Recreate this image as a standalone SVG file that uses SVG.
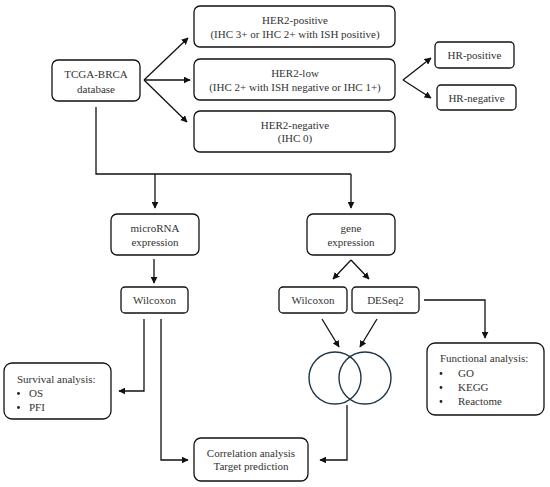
<svg xmlns="http://www.w3.org/2000/svg" width="550" height="487" viewBox="0 0 550 487">
<defs>
<marker id="ah" viewBox="0 0 10 10" refX="9" refY="5" markerWidth="7" markerHeight="7" markerUnits="userSpaceOnUse" orient="auto">
<path d="M0,0 L10,5 L0,10 z" fill="#111"/>
</marker>
<style>
.box{fill:#fff;stroke:#111;stroke-width:1.3}
.t{font-family:"Liberation Serif","Times New Roman",serif;font-size:11px;fill:#333;text-anchor:middle}
.l{font-family:"Liberation Serif","Times New Roman",serif;font-size:11px;fill:#333}
.c{fill:none;stroke:#111;stroke-width:1.3}
.a{fill:none;stroke:#111;stroke-width:1.3;marker-end:url(#ah)}
.v{fill:none;stroke:#1d3547;stroke-width:1.4}
</style>
</defs>
<rect width="550" height="487" fill="#fff"/>
<g id="connectors">
<path class="a" d="M144,80 L188,38"/>
<path class="a" d="M144,80 L190,80"/>
<path class="a" d="M144,80 L187,122"/>
<path class="a" d="M403,80 L431,58"/>
<path class="a" d="M403,80 L431,98"/>
<path class="c" d="M96,107 L96,174 L351,174"/>
<path class="a" d="M155,174 L155,208"/>
<path class="a" d="M351,174 L351,208"/>
<path class="a" d="M154,259 L154,283"/>
<path class="a" d="M351,260 L333,279"/>
<path class="a" d="M351,260 L369,279"/>
<path class="a" d="M424,300 L485,300 L485,338"/>
<path class="a" d="M322,319 L339,347"/>
<path class="a" d="M377,319 L360,347"/>
<path class="a" d="M347,405 L347,460 L320,460"/>
<path class="a" d="M144,319 L144,391 L119,391"/>
<path class="a" d="M161,319 L161,460 L188,460"/>
</g>
<g id="tcga"><rect class="box" x="52" y="60" width="88" height="41" rx="6"/><text class="t" x="96" y="78">TCGA-BRCA</text><text class="t" x="96" y="93">database</text></g>
<g id="her2pos"><rect class="box" x="194" y="6" width="201" height="41" rx="6"/><text class="t" x="295" y="24">HER2-positive</text><text class="t" x="295" y="38">(IHC 3+ or IHC 2+ with ISH positive)</text></g>
<g id="her2low"><rect class="box" x="194" y="59" width="201" height="41" rx="6"/><text class="t" x="295" y="77">HER2-low</text><text class="t" x="295" y="91">(IHC 2+ with ISH negative or IHC 1+)</text></g>
<g id="her2neg"><rect class="box" x="194" y="111" width="201" height="41" rx="6"/><text class="t" x="295" y="129">HER2-negative</text><text class="t" x="295" y="142">(IHC 0)</text></g>
<g id="hrpos"><rect class="box" x="435" y="42" width="79" height="26" rx="4"/><text class="t" x="474.5" y="59">HR-positive</text></g>
<g id="hrneg"><rect class="box" x="437" y="85" width="79" height="25" rx="4"/><text class="t" x="476.5" y="102">HR-negative</text></g>
<g id="mirna"><rect class="box" x="111" y="214" width="88" height="41" rx="6"/><text class="t" x="155" y="232">microRNA</text><text class="t" x="155" y="246">expression</text></g>
<g id="gene"><rect class="box" x="307" y="214" width="88" height="41" rx="6"/><text class="t" x="351" y="232">gene</text><text class="t" x="351" y="246">expression</text></g>
<g id="wilcoxon1"><rect class="box" x="121" y="287" width="67" height="26" rx="4"/><text class="t" x="154.5" y="304">Wilcoxon</text></g>
<g id="wilcoxon2"><rect class="box" x="279" y="287" width="68" height="26" rx="4"/><text class="t" x="313" y="304">Wilcoxon</text></g>
<g id="deseq2"><rect class="box" x="352" y="287" width="67" height="26" rx="4"/><text class="t" x="385.5" y="304">DESeq2</text></g>
<g id="venn"><circle class="v" cx="335" cy="378" r="26"/><circle class="v" cx="365" cy="378" r="26"/></g>
<g id="survival"><rect class="box" x="4" y="363" width="107" height="56" rx="8"/><text class="l" x="17" y="383">Survival analysis:</text><circle cx="18.5" cy="393.5" r="1.4" fill="#222"/><text class="l" x="29" y="397">OS</text><circle cx="18.5" cy="407.5" r="1.4" fill="#222"/><text class="l" x="29" y="411">PFI</text></g>
<g id="functional"><rect class="box" x="427" y="343" width="117" height="72" rx="8"/><text class="l" x="440" y="362">Functional analysis:</text><circle cx="441" cy="373.5" r="1.4" fill="#222"/><text class="l" x="458" y="377">GO</text><circle cx="441" cy="387.5" r="1.4" fill="#222"/><text class="l" x="458" y="391">KEGG</text><circle cx="441" cy="401.5" r="1.4" fill="#222"/><text class="l" x="458" y="405">Reactome</text></g>
<g id="correlation"><rect class="box" x="194" y="438" width="114" height="43" rx="7"/><text class="t" x="251" y="457">Correlation analysis</text><text class="t" x="251" y="470">Target prediction</text></g>
</svg>
